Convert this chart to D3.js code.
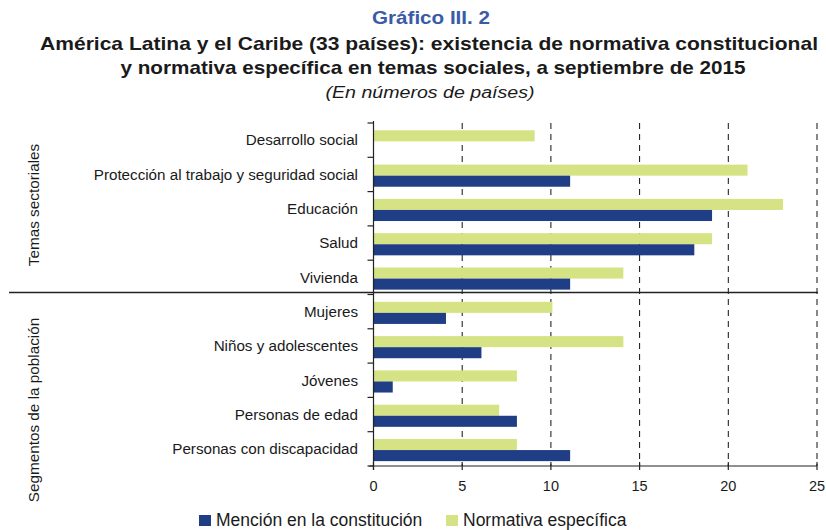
<!DOCTYPE html>
<html>
<head>
<meta charset="utf-8">
<script src="https://cdn.jsdelivr.net/npm/d3@7"></script>
<style>
  html, body { margin: 0; padding: 0; background: #fff; }
  svg text { font-family: "Liberation Sans", Arial, Helvetica, sans-serif; fill: #1a1a1a; }
</style>
</head>
<body>
<svg id="chart" width="826" height="530"></svg>
<script>
// Categories, top to bottom
const categories = [
  "Desarrollo social",
  "Protección al trabajo y seguridad social",
  "Educación",
  "Salud",
  "Vivienda",
  "Mujeres",
  "Niños y adolescentes",
  "Jóvenes",
  "Personas de edad",
  "Personas con discapacidad"
];
// Groups of categories
const groups = [
  { name: "Temas sectoriales", first: "Desarrollo social", last: "Vivienda" },
  { name: "Segmentos de la población", first: "Mujeres", last: "Personas con discapacidad" }
];
// Number of countries per category
const normativa = [9, 21, 23, 19, 14, 10, 14, 8, 7, 8];
const mencion   = [0, 11, 19, 18, 11, 4, 6, 1, 8, 11];
const seriesNames = ["Normativa específica", "Mención en la constitución"];
const legendOrder = ["Mención en la constitución", "Normativa específica"];
const xTicks = [0, 5, 10, 15, 20, 25];

const colors = { "Mención en la constitución": "#1f3e86", "Normativa específica": "#d5e384" };

const svg = d3.select("#chart");

// Titles
const titleFont = '"Liberation Sans", Arial, sans-serif';
svg.append("text").attr("x", 431).attr("y", 24).attr("text-anchor", "middle")
  .style("font-family", titleFont).style("font-weight", "bold").style("font-size", "19px")
  .style("fill", "#3a5ba8").text("Gráfico III. 2")
  .attr("textLength", 118).attr("lengthAdjust", "spacingAndGlyphs");
svg.append("text").attr("x", 429).attr("y", 50).attr("text-anchor", "middle")
  .style("font-family", titleFont).style("font-weight", "bold").style("font-size", "18.5px")
  .text("América Latina y el Caribe (33 países): existencia de normativa constitucional")
  .attr("textLength", 778).attr("lengthAdjust", "spacingAndGlyphs");
svg.append("text").attr("x", 433).attr("y", 74).attr("text-anchor", "middle")
  .style("font-family", titleFont).style("font-weight", "bold").style("font-size", "18.5px")
  .text("y normativa específica en temas sociales, a septiembre de 2015")
  .attr("textLength", 625).attr("lengthAdjust", "spacingAndGlyphs");
svg.append("text").attr("x", 430).attr("y", 98).attr("text-anchor", "middle")
  .style("font-family", titleFont).style("font-style", "italic").style("font-size", "16px")
  .text("(En números de países)")
  .attr("textLength", 209).attr("lengthAdjust", "spacingAndGlyphs");

// Scales
const x = d3.scaleLinear().domain([0, 25]).range([373.5, 817]);
const y = d3.scaleBand().domain(categories).range([123, 466]).paddingInner(0).paddingOuter(0);
const ySub = d3.scaleBand().domain(seriesNames).range([0, y.bandwidth()])
  .paddingInner(0).paddingOuter(0.55).align(0.6);

// Dashed vertical gridlines
svg.append("g").selectAll("line").data(xTicks.filter(d => d > 0)).join("line")
  .attr("x1", d => x(d)).attr("x2", d => x(d))
  .attr("y1", 123).attr("y2", 466)
  .attr("stroke", "#111").attr("stroke-width", 1).attr("stroke-dasharray", "6,5");

// Bars
const rows = categories.map((c, i) => ({ cat: c, values: [
  { s: "Normativa específica", v: normativa[i] },
  { s: "Mención en la constitución", v: mencion[i] }
]}));
const rowG = svg.append("g").selectAll("g").data(rows).join("g")
  .attr("transform", d => `translate(0,${y(d.cat)})`);
rowG.selectAll("rect").data(d => d.values.filter(e => e.v > 0)).join("rect")
  .attr("x", x(0))
  .attr("y", d => ySub(d.s))
  .attr("width", d => x(d.v) - x(0) + 1.5)
  .attr("height", ySub.bandwidth())
  .attr("fill", d => colors[d.s]);

// Left axis: line with ticks at band boundaries
const boundaries = categories.map(c => y(c)).concat([y.range()[1]]);
svg.append("line").attr("x1", x(0)).attr("x2", x(0)).attr("y1", 121).attr("y2", 470)
  .attr("stroke", "#222").attr("stroke-width", 1.2);
svg.append("g").selectAll("line").data(boundaries).join("line")
  .attr("x1", x(0) - 6).attr("x2", x(0)).attr("y1", d => d).attr("y2", d => d)
  .attr("stroke", "#222").attr("stroke-width", 1.2);

// Category labels
svg.append("g").selectAll("text").data(categories).join("text")
  .attr("x", 358).attr("y", d => y(d) + y.bandwidth() / 2)
  .attr("dy", "0.35em").attr("text-anchor", "end")
  .style("font-size", "15.2px").text(d => d);

// Bottom axis
const xAxis = svg.append("g").attr("transform", "translate(0,466)");
xAxis.append("line").attr("x1", x(0) - 4).attr("x2", x(25)).attr("y1", 0).attr("y2", 0)
  .attr("stroke", "#222").attr("stroke-width", 1.2);
xAxis.selectAll("line.tick").data(xTicks).join("line").attr("class", "tick")
  .attr("x1", d => x(d)).attr("x2", d => x(d)).attr("y1", -4).attr("y2", 4)
  .attr("stroke", "#222").attr("stroke-width", 1.2);
xAxis.selectAll("text").data(xTicks).join("text")
  .attr("x", d => x(d)).attr("y", 25).attr("text-anchor", "middle")
  .style("font-size", "14.5px").text(d => d);

// Separator between groups
svg.append("line").attr("x1", 9).attr("x2", 818)
  .attr("y1", y("Mujeres") - 2).attr("y2", y("Mujeres") - 2)
  .attr("stroke", "#222").attr("stroke-width", 1.5);

// Group labels (rotated)
const groupY = { "Temas sectoriales": 205, "Segmentos de la población": 410 };
svg.append("g").selectAll("text").data(groups).join("text")
  .attr("transform", d => `translate(39,${groupY[d.name]}) rotate(-90)`)
  .attr("text-anchor", "middle")
  .style("font-size", "15.3px").text(d => d.name);

// Legend
const legendX = { "Mención en la constitución": 199, "Normativa específica": 446 };
const lg = svg.append("g").selectAll("g").data(legendOrder).join("g")
  .attr("transform", d => `translate(${legendX[d]},515)`);
lg.append("rect").attr("width", 12).attr("height", 11).attr("fill", d => colors[d]);
lg.append("text").attr("x", 17).attr("y", 11)
  .style("font-size", "17.5px").text(d => d);
</script>
</body>
</html>
